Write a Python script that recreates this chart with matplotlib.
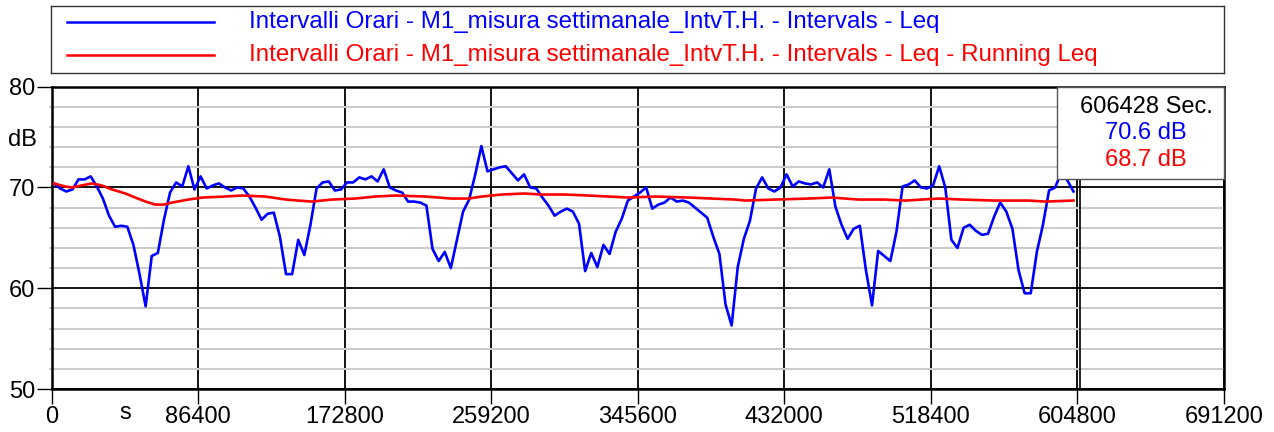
import matplotlib
matplotlib.use('Agg')
import matplotlib.pyplot as plt
from matplotlib.ticker import FixedLocator, MultipleLocator
from matplotlib.patches import Rectangle
import numpy as np

plt.rcParams['font.family'] = ['Liberation Sans', 'DejaVu Sans']

# hourly intervals: first one sits ~1400 s into the record
start_s = 1400
step_s = 3600

# Leq per hour (dB)
leq = [
    70.4, 69.9, 69.6, 69.8, 70.8, 70.8, 71.1, 70.1, 68.9, 67.2,
    66.1, 66.2, 66.1, 64.3, 61.4, 58.2, 63.2, 63.5, 66.8, 69.5,
    70.5, 70.1, 72.1, 69.8, 71.1, 69.9, 70.2, 70.4, 70.0, 69.7,
    70.0, 69.9, 69.1, 68.0, 66.8, 67.4, 67.5, 65.1, 61.4, 61.4,
    64.8, 63.3, 66.3, 69.9, 70.5, 70.6, 69.7, 69.8, 70.5, 70.5,
    71.0, 70.8, 71.1, 70.6, 71.8, 70.0, 69.7, 69.5, 68.6, 68.6,
    68.5, 68.2, 63.9, 62.7, 63.6, 62.0, 64.8, 67.6, 68.8, 71.3,
    74.1, 71.6, 71.8, 72.0, 72.1, 71.4, 70.7, 71.3, 70.0, 69.9,
    69.0, 68.2, 67.2, 67.6, 67.9, 67.6, 66.4, 61.7, 63.5, 62.1,
    64.3, 63.4, 65.6, 66.9, 68.7, 69.1, 69.5, 70.0, 67.9, 68.3,
    68.5, 69.0, 68.6, 68.7, 68.5, 68.0, 67.5, 67.0, 65.1, 63.4,
    58.4, 56.3, 62.1, 64.9, 66.7, 69.9, 71.0, 69.9, 69.6, 70.0,
    71.3, 70.1, 70.6, 70.4, 70.3, 70.5, 70.0, 71.8, 68.1, 66.3,
    64.9, 65.9, 66.2, 61.8, 58.3, 63.7, 63.2, 62.7, 65.6, 70.1,
    70.3, 70.7, 70.0, 69.9, 70.2, 72.1, 70.0, 64.8, 64.0, 66.0,
    66.3, 65.7, 65.3, 65.4, 67.1, 68.5, 67.6, 65.9, 61.8, 59.5,
    59.5, 63.6, 66.3, 69.7, 70.0, 71.5, 70.7, 69.6,
]

# running Leq (hour position, dB)
run_hours = [
    0, 1.8, 2.9, 4.5, 6.2, 7.8, 9.5, 11.7, 13.3, 15,
    16.6, 18, 19.3, 22, 24.3, 28, 30.7, 34.6, 38, 40,
    42.2, 45.5, 49.3, 52.6, 55.9, 60.8, 65.1, 67.9, 70.1, 73.3,
    77.1, 79.9, 83.7, 87.5, 94.1, 98.5, 104, 111.6, 113.2, 118.1,
    123.6, 127.4, 131.8, 136.1, 139.4, 144.9, 148.7, 154.2, 159.7, 162.4,
    167,
]
run_leq = [
    70.4, 70.1, 70.0, 70.2, 70.4, 70.2, 69.8, 69.4, 69.0, 68.6,
    68.3, 68.3, 68.5, 68.8, 69.0, 69.1, 69.2, 69.1, 68.8, 68.7,
    68.6, 68.8, 68.9, 69.1, 69.2, 69.1, 68.9, 68.9, 69.1, 69.3,
    69.4, 69.3, 69.3, 69.2, 69.0, 69.1, 69.0, 68.8, 68.7, 68.8,
    68.9, 69.0, 68.8, 68.8, 68.7, 68.9, 68.8, 68.7, 68.7, 68.6,
    68.7,
]

cursor_s = 606428
cursor_leq = 70.6
cursor_run = 68.7

x_ticks = [0, 86400, 172800, 259200, 345600, 432000, 518400, 604800, 691200]
y_ticks = [50, 60, 70, 80]

label_leq = 'Intervalli Orari - M1_misura settimanale_IntvT.H. - Intervals - Leq'
label_run = 'Intervalli Orari - M1_misura settimanale_IntvT.H. - Intervals - Leq - Running Leq'

BLUE = '#0000ff'
RED = '#ff0000'
FS = 17

W, H = 1274, 432
fig = plt.figure(figsize=(W / 100, H / 100), dpi=100, facecolor='white')

# main plot area
ax = fig.add_axes([51.7 / W, 1 - 389 / H, (1223.7 - 51.7) / W, (389 - 86.7) / H])

t_leq = start_s + step_s * np.arange(len(leq))
t_run = start_s + step_s * np.array(run_hours)

ax.plot(t_leq, leq, color=BLUE, lw=1.9, zorder=4)
ax.plot(t_run, run_leq, color=RED, lw=1.9, zorder=4)
ax.axvline(cursor_s, color='black', lw=1.2, zorder=5)

ax.set_xlim(x_ticks[0], x_ticks[-1])
ax.set_ylim(y_ticks[0], y_ticks[-1])
ax.xaxis.set_major_locator(FixedLocator(x_ticks))
ax.yaxis.set_major_locator(FixedLocator(y_ticks))
ax.yaxis.set_minor_locator(MultipleLocator(2))

ax.grid(which='major', color='black', lw=1.3)
ax.grid(which='minor', axis='y', color='#cccccc', lw=1.5)
ax.set_axisbelow(True)

ax.tick_params(which='major', length=11, width=1, direction='out',
               labelsize=FS, pad=1, colors='black')
ax.tick_params(which='minor', axis='y', length=2, width=1.5, color='#cccccc')
for s in ax.spines.values():
    s.set_linewidth(1.8)
    s.set_color('black')

fig.text(22 / W, 1 - 140 / H, 'dB', ha='center', va='center', fontsize=FS)
fig.text(125 / W, 1 - 413 / H, 's', ha='center', va='center', fontsize=FS)

# cursor read-out box
bx0 = (1057 - 51.7) / (1223.7 - 51.7)
by0 = (389 - 179) / (389 - 86.7)
ax.add_patch(Rectangle((bx0, by0), 1 - bx0, 1 - by0, transform=ax.transAxes,
                       facecolor='white', edgecolor='#555555', lw=1.0, zorder=6,
                       clip_on=False))
bxc = (1146 - 51.7) / (1223.7 - 51.7)
ax.text(bxc, (389 - 107) / (389 - 86.7), f'{cursor_s} Sec.', transform=ax.transAxes,
        ha='center', va='center', fontsize=FS, color='black', zorder=7)
ax.text(bxc, (389 - 133) / (389 - 86.7), f'{cursor_leq:.1f} dB', transform=ax.transAxes,
        ha='center', va='center', fontsize=FS, color=BLUE, zorder=7)
ax.text(bxc, (389 - 160) / (389 - 86.7), f'{cursor_run:.1f} dB', transform=ax.transAxes,
        ha='center', va='center', fontsize=FS, color=RED, zorder=7)

# legend box across the top
leg = fig.add_axes([51 / W, 1 - 73 / H, (1224 - 51) / W, (73 - 6) / H])
leg.set_xlim(51, 1224)
leg.set_ylim(73, 6)
leg.set_xticks([])
leg.set_yticks([])
for s in leg.spines.values():
    s.set_linewidth(1.0)
    s.set_color('#333333')
for yy, lab, col in [(22, label_leq, BLUE), (55, label_run, RED)]:
    leg.plot([67, 214], [yy, yy], color=col, lw=1.8)
    leg.text(249, yy, lab, ha='left', va='center', fontsize=17.4, color=col)

fig.savefig('out.png', dpi=100, facecolor='white')
